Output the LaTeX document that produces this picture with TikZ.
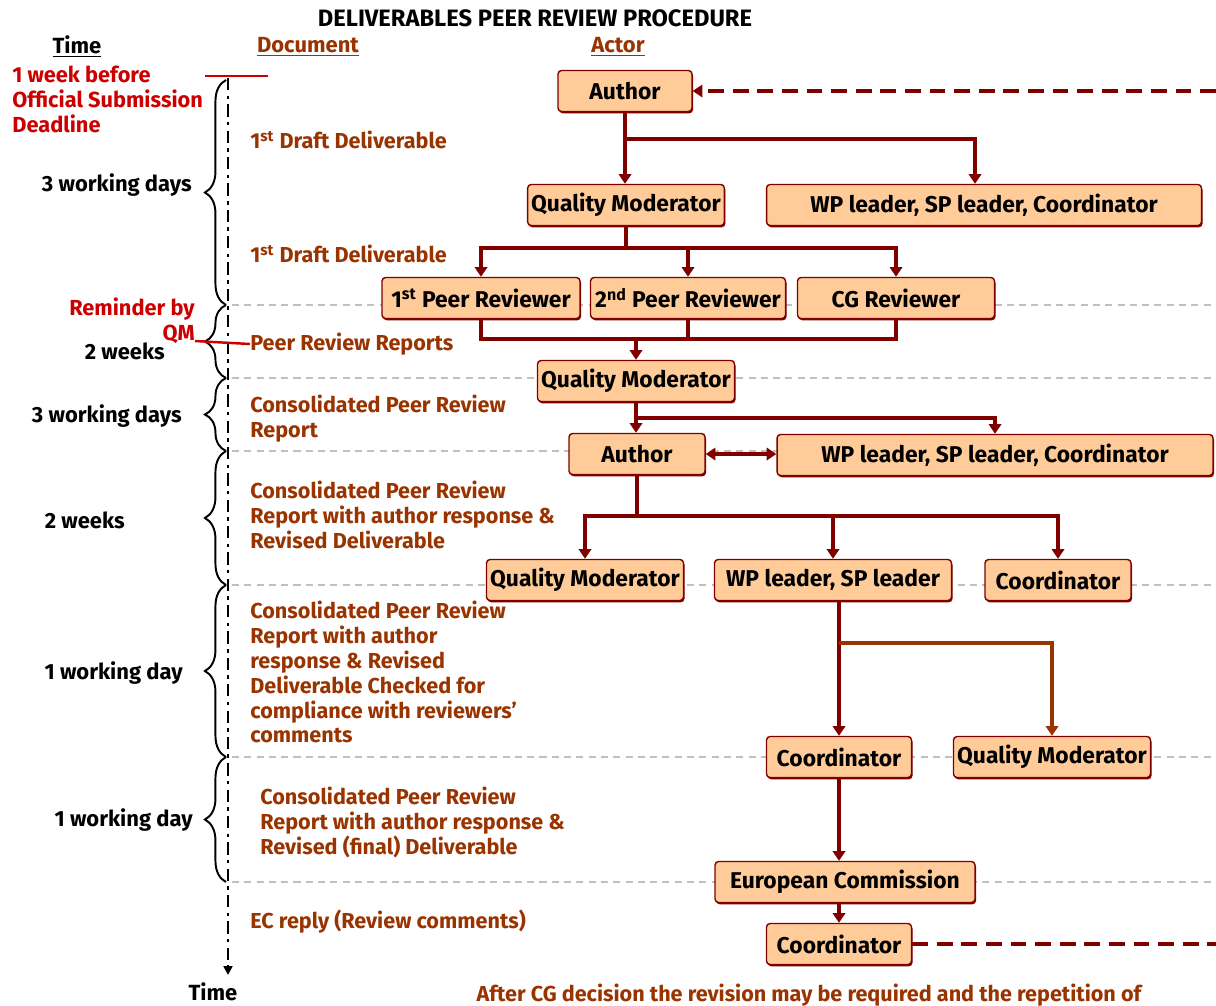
\documentclass[tikz,border=0pt]{standalone}
\usepackage{fontspec}
\setmainfont{Fira Sans}
\usetikzlibrary{arrows.meta,decorations.pathreplacing,shadows}
\definecolor{boxfill}{HTML}{FFCC99}
\definecolor{boxline}{HTML}{800000}
\definecolor{docbrown}{HTML}{993300}
\definecolor{remred}{HTML}{CC0000}
\definecolor{gridgray}{HTML}{C0C0C0}
\begin{document}
\begin{tikzpicture}[x=0.02cm,y=-0.02cm,
actorS/.style={draw=boxline,fill=boxfill,line width=0.8pt,rounded corners=2pt,minimum height=0.82cm,inner sep=2pt,font=\fontsize{13}{15}\selectfont\bfseries,drop shadow={shadow xshift=0.6pt,shadow yshift=-1pt,fill=boxline,opacity=1}},
docS/.style={anchor=west,align=left,inner sep=0pt,text=docbrown,font=\fontsize{12.3}{14.2}\selectfont\bfseries},
timeS/.style={anchor=east,inner sep=0pt,font=\fontsize{12.5}{14.2}\selectfont\bfseries},
redS/.style={inner sep=0pt,text=remred,font=\fontsize{12.4}{14.2}\selectfont\bfseries},
headS/.style={inner sep=0pt,font=\fontsize{12.5}{14.2}\selectfont\bfseries},
flowC/.style={draw=boxline,line width=1.8pt,-{Triangle[width=7pt,length=5.5pt]}},
lineC/.style={draw=boxline,line width=1.8pt},
dashC/.style={draw=boxline,line width=2pt,dash pattern=on 9pt off 5pt},
gridC/.style={draw=gridgray,line width=0.9pt,dash pattern=on 4pt off 3pt},
braceC/.style={draw=black,line width=1.1pt,decorate,decoration={brace,amplitude=12pt}},
axisC/.style={draw=black,line width=1.2pt,dash pattern=on 7pt off 3pt on 2pt off 3pt,-{Triangle[width=5pt,length=5pt]}},
redL/.style={draw=remred,line width=1.4pt}]
\useasboundingbox (0,0) rectangle (1216,1005);

\foreach \y in {305,378,451,585,757,882}
  \draw[gridC] (232,\y) -- (1216,\y);

\node[headS,font=\fontsize{13.5}{15}\selectfont\bfseries] (title) at (535,18) {DELIVERABLES PEER REVIEW PROCEDURE};
\node[headS] (hT) at (77,47) {\underline{Time}};
\node[headS,text=docbrown] (hD) at (308,47) {\underline{Document}};
\node[headS,text=docbrown] (hA) at (618,47) {\underline{Actor}};

\node[redS,anchor=west,align=left] (dl) at (12,99) {1 week before\\Official Submission\\Deadline};
\node[redS,anchor=east,align=right] (rm) at (195,321) {Reminder by\\QM};

\coordinate (t0) at (228,78);
\coordinate (t1) at (228,975);
\draw[axisC] (t0) -- (t1);
\node[headS] (tB) at (213,992) {Time};
\coordinate (r0) at (205,76);
\coordinate (r1) at (268,76);
\draw[redL] (r0) -- (r1);

\draw[braceC] (226,305) -- (226,80);
\draw[braceC] (226,378) -- (226,305);
\draw[braceC] (226,451) -- (226,378);
\draw[braceC] (226,585) -- (226,451);
\draw[braceC] (226,757) -- (226,585);
\draw[braceC] (226,882) -- (226,757);
\node[timeS] (w1) at (192,185) {3 working days};
\node[timeS] (w2) at (165,351) {2 weeks};
\node[timeS] (w3) at (182,416) {3 working days};
\node[timeS] (w4) at (125,520) {2 weeks};
\node[timeS] (w5) at (183,673) {1 working day};
\node[timeS] (w6) at (193,820) {1 working day};

\node[docS] (D1) at (250,140) {1\textsuperscript{st} Draft Deliverable};
\node[docS] (D2) at (250,254) {1\textsuperscript{st} Draft Deliverable};
\node[docS] (D3) at (250,344) {Peer Review Reports};
\node[docS] (D4) at (250,419) {Consolidated Peer Review\\Report};
\node[docS] (D5) at (250,515) {Consolidated Peer Review\\Report with author response \&\\Revised Deliverable};
\node[docS] (D6) at (250,672) {Consolidated Peer Review\\Report with author\\response \& Revised\\Deliverable Checked for\\compliance with reviewers'\\comments};
\node[docS] (D7) at (260,822) {Consolidated Peer Review\\Report with author response \&\\Revised (final) Deliverable};
\node[docS] (D8) at (250,922) {EC reply (Review comments)};
\node[docS,anchor=center] (D9) at (809,995) {After CG decision the revision may be required and the repetition of};
\coordinate (rq) at (195,341);
\draw[redL] (rq) -- (D3.west);

\node[actorS,minimum width=2.68cm] (A1) at (625,91) {Author};
\node[actorS,minimum width=3.92cm] (QM1) at (626,205) {Quality Moderator};
\node[actorS,minimum width=8.7cm] (W1) at (984,205) {WP leader, SP leader, Coordinator};
\node[actorS,minimum width=3.96cm] (PR1) at (481,298) {1\textsuperscript{st} Peer Reviewer};
\node[actorS,minimum width=3.9cm] (PR2) at (688,298) {2\textsuperscript{nd} Peer Reviewer};
\node[actorS,minimum width=3.94cm] (CG) at (896,298) {CG Reviewer};
\node[actorS,minimum width=3.94cm] (QM2) at (636,381) {Quality Moderator};
\node[actorS,minimum width=2.72cm] (A2) at (637,454) {Author};
\node[actorS,minimum width=8.72cm] (W2) at (995,455) {WP leader, SP leader, Coordinator};
\node[actorS,minimum width=3.94cm] (QM3) at (585,580) {Quality Moderator};
\node[actorS,minimum width=4.74cm] (WS) at (833,580) {WP leader, SP leader};
\node[actorS,minimum width=2.92cm] (C1) at (1058,580) {Coordinator};
\node[actorS,minimum width=2.9cm] (C2) at (839,757) {Coordinator};
\node[actorS,minimum width=3.94cm] (QM4) at (1052,757) {Quality Moderator};
\node[actorS,minimum width=5.2cm] (EC) at (845,882) {European Commission};
\node[actorS,minimum width=2.9cm] (C3) at (839,944) {Coordinator};

\coordinate (d1) at (1216,91);
\draw[dashC,-{Triangle[width=7pt,length=5.5pt]}] (d1) -- (A1.east);
\coordinate (d2) at (1216,944);
\draw[dashC] (C3.east) -- (d2);

\coordinate (b1) at (625,139);
\draw[flowC] (A1.south) -- (QM1.north -| A1.south);
\draw[flowC] (b1) -| ([xshift=-0.18cm]W1.north);

\coordinate (b2) at (626,248);
\draw[lineC] (QM1.south) -- (b2);
\draw[flowC] (b2) -| (PR1.north);
\draw[flowC] (b2) -| (CG.north);
\draw[flowC] (b2 -| PR2.north) -- (PR2.north);

\coordinate (m1) at (636,339);
\draw[lineC] (PR1.south) |- (m1 -| CG.south) -- (CG.south);
\draw[lineC] (PR2.south) -- (m1 -| PR2.south);
\draw[flowC] (m1) -- (QM2.north);

\coordinate (b3) at (636,418);
\draw[flowC] (QM2.south) -- (A2.north -| QM2.south);
\draw[flowC] (b3) -| (W2.north);
\draw[lineC,{Triangle[width=7pt,length=5.5pt]}-{Triangle[width=7pt,length=5.5pt]}] (A2.east) -- (W2.west |- A2.east);

\coordinate (b4) at (637,516);
\draw[lineC] (A2.south) -- (b4);
\draw[flowC] (b4) -| (QM3.north);
\draw[flowC] (b4) -| (WS.north);
\draw[flowC] (b4) -| (C1.north);

\coordinate (b5) at (839,643);
\draw[flowC] (WS.south -| C2.north) -- (C2.north);
\draw[flowC,draw=docbrown] (b5) -| (QM4.north);
\draw[flowC] (C2.south) -- (C2.south |- EC.north);
\draw[flowC] (EC.south -| C3.north) -- (C3.north);
\end{tikzpicture}
\end{document}
